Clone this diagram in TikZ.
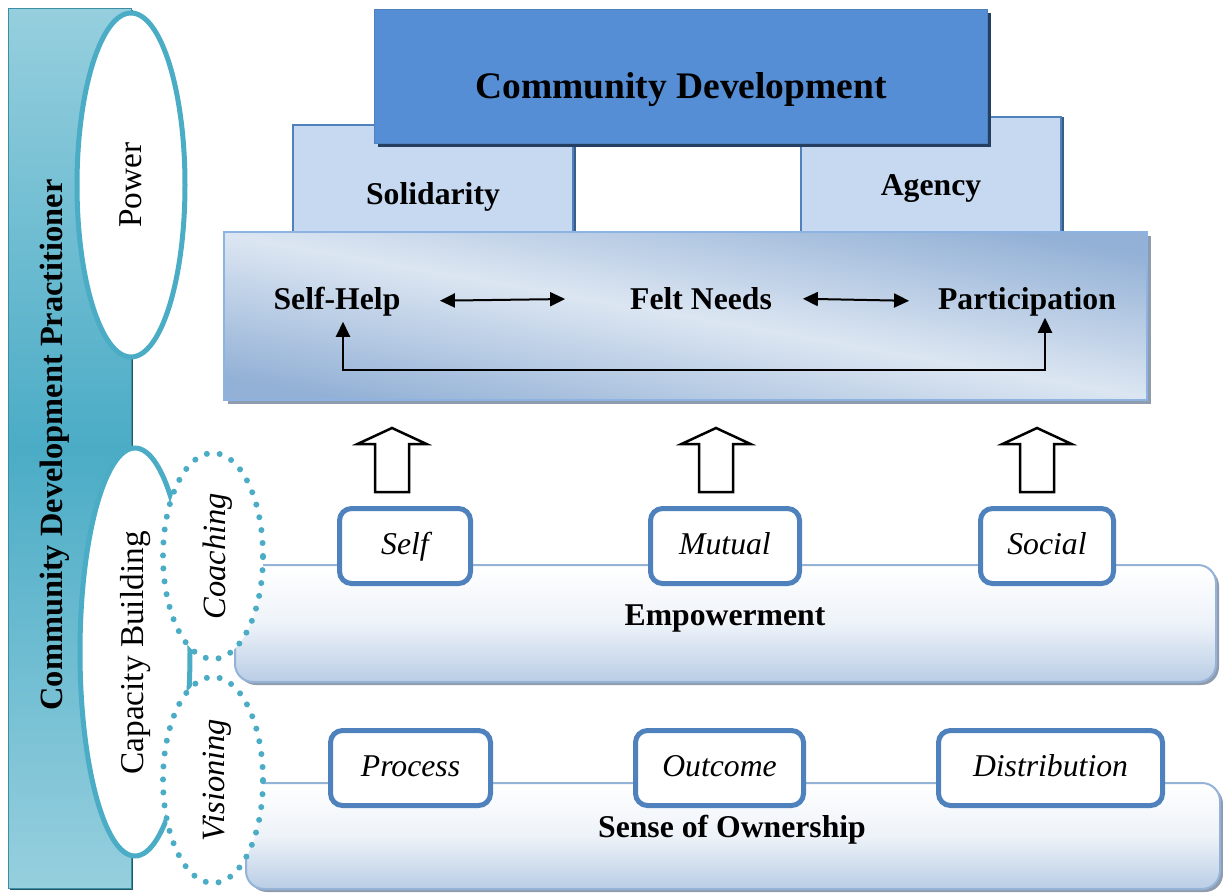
\documentclass[tikz,border=0pt]{standalone}
\usepackage{fontspec}
\setmainfont{Liberation Serif}[
  BoldFont=Liberation Serif Bold,
  ItalicFont=Liberation Serif Italic,
  BoldItalicFont=Liberation Serif Bold Italic]
\usetikzlibrary{arrows.meta,calc,shapes.geometric,shadows}

\definecolor{cdblue}{HTML}{558ED5}
\definecolor{cdshadow}{HTML}{243F60}
\definecolor{pillar}{HTML}{C6D9F1}
\definecolor{pillaredge}{HTML}{4F81BD}
\definecolor{pillarshadow}{HTML}{385D8A}
\definecolor{accent}{HTML}{4F81BD}
\definecolor{teal}{HTML}{4BACC6}
\definecolor{teallight}{HTML}{96CFDE}
\definecolor{tealedge}{HTML}{3C8EA4}
\definecolor{tealshadow}{HTML}{215968}
\definecolor{panellight}{HTML}{DCE6F2}
\definecolor{paneldark}{HTML}{93B1D6}
\definecolor{paneledge}{HTML}{8DB3E2}
\definecolor{barbottom}{HTML}{B9CDE5}
\definecolor{baredge}{HTML}{95B3D7}
\definecolor{greyshadow}{HTML}{8F9CAE}

\begin{document}
\begin{tikzpicture}[x=1pt,y=-1pt,
  every node/.style={inner sep=0pt, outer sep=0pt},
  boldlabel/.style={font=\fontsize{31.7}{36}\selectfont\bfseries},
  itlabel/.style={font=\fontsize{31.7}{36}\selectfont\itshape},
  sidelabel/.style={font=\fontsize{33.3}{38}\selectfont, rotate=90},
  sideitlabel/.style={font=\fontsize{32.5}{38}\selectfont\itshape, rotate=90},
  tag/.style={draw=accent, line width=5pt, rounded corners=12pt, fill=white,
    minimum height=75pt, text height=22pt, text depth=6pt,
    font=\fontsize{31.7}{36}\selectfont\itshape},
  pillarbox/.style={draw=pillaredge, line width=2pt, fill=pillar,
    drop shadow={shadow xshift=2.5pt, shadow yshift=0pt, opacity=1, fill=pillarshadow}},
  bar/.style={draw=baredge, line width=2pt, rounded corners=18pt,
    top color=white, bottom color=barbottom, middle color=white!75!barbottom,
    drop shadow={shadow xshift=3pt, shadow yshift=-3pt, opacity=1, fill=greyshadow}},
  link/.style={line width=2pt, {Triangle[length=15pt,width=14pt]}-{Triangle[length=15pt,width=14pt]}},
  solidring/.style={ellipse, draw=teal, fill=white, line width=5pt},
  dotring/.style={ellipse, draw=teal, fill=white, line width=6pt, line cap=round,
    dash pattern=on 0pt off 13pt},
  hollowup/.pic={
    \draw[line width=2.5pt, fill=white, line join=miter]
      (-17,0) -- (-17,-48) -- (-34.5,-48) -- (0,-64) -- (34.5,-48)
      -- (17,-48) -- (17,0) -- cycle;}
]
\useasboundingbox (0,0) rectangle (1223,894);

% practitioner column on the left
\node[minimum width=123pt, minimum height=880pt, draw=tealedge, line width=1pt,
  top color=teallight, bottom color=teallight, middle color=teal,
  drop shadow={shadow xshift=2pt, shadow yshift=-2pt, opacity=1, fill=tealshadow}]
  (practbar) at (69.5,448) {};
\node[font=\fontsize{32.4}{38}\selectfont\bfseries, rotate=90] (practtxt) at (54.5,445)
  {Community Development Practitioner};

% power and capacity building rings
\node[solidring, minimum width=108pt, minimum height=344pt] (power) at (131,185) {};
\node[sidelabel] (powertxt) at (131,185) {Power};
\node[solidring, minimum width=110pt, minimum height=408pt] (capacity) at (135,652) {};

% pillars and roof
\node[pillarbox, minimum width=280pt, minimum height=107pt] (solidarity) at (433,178.5) {};
\node[pillarbox, minimum width=260pt, minimum height=115pt] (agency) at (931,174.5) {};
\node[draw=accent, line width=1pt, fill=cdblue, minimum width=613pt, minimum height=134pt,
  drop shadow={shadow xshift=3.5pt, shadow yshift=-3.5pt, opacity=1, fill=cdshadow}]
  (cd) at (680.5,76) {};
\node[font=\fontsize{37.5}{42}\selectfont\bfseries, anchor=base] (cdtxt) at (681,98)
  {Community Development};
\node[boldlabel, anchor=base] (soltxt) at (433,204) {Solidarity};
\node[boldlabel, anchor=base] (agtxt) at (931,195) {Agency};

% principles panel: light along the falling diagonal, darker towards two corners
\node[draw=paneledge, line width=1.5pt, minimum width=923pt, minimum height=168pt,
  top color=paneldark, bottom color=paneldark, middle color=panellight, shading angle=-10,
  drop shadow={shadow xshift=4pt, shadow yshift=-4pt, opacity=1, fill=greyshadow}]
  (panel) at (685.5,316) {};
\node[boldlabel, anchor=base] (selfhelp) at (337,309) {Self-Help};
\node[boldlabel, anchor=base] (feltneeds) at (701,309) {Felt Needs};
\node[boldlabel, anchor=base] (particip) at (1027,309) {Participation};
\draw[link, shorten <=39.5pt, shorten >=65pt] (selfhelp.east) -- (feltneeds.west);
\draw[link, shorten <=31pt, shorten >=29pt] (feltneeds.east) -- (particip.west);
\draw[link] ($(selfhelp.south)+(6,6)$) -- ++(0,48) -| ($(particip.south)+(18,2)$);

% hollow arrows
\pic (upA) at (392,492) {hollowup};
\pic (upB) at (716,492) {hollowup};
\pic (upC) at (1037,492) {hollowup};

% empowerment layer
\node[bar, minimum width=981pt, minimum height=117pt] (empower) at (725.5,623.5) {};
\node[boldlabel, anchor=base] (emptxt) at (725,625) {Empowerment};
\node[tag, minimum width=131pt] (self) at (405,546) {Self};
\node[tag, minimum width=149pt] (mutual) at (725,546) {Mutual};
\node[tag, minimum width=133pt] (social) at (1047,546) {Social};

% ownership layer
\node[bar, minimum width=974pt, minimum height=106pt] (owner) at (733,836) {};
\node[boldlabel, anchor=base] (owntxt) at (732,837) {Sense of Ownership};
\node[tag, minimum width=160pt] (process) at (410.5,768) {Process};
\node[tag, minimum width=168pt] (outcome) at (719.5,768) {Outcome};
\node[tag, minimum width=224pt] (distrib) at (1050.5,768) {Distribution};

% capacity building strands
\node[dotring, minimum width=100pt, minimum height=206pt] (coaching) at (213,556) {};
\node[dotring, minimum width=100pt, minimum height=206pt] (visioning) at (213,780) {};
\node[sidelabel] (captxt) at (136,653) {Capacity Building};
\node[sideitlabel] (coachtxt) at (217.5,556) {Coaching};
\node[sideitlabel] (vistxt) at (217,780) {Visioning};
\end{tikzpicture}
\end{document}
